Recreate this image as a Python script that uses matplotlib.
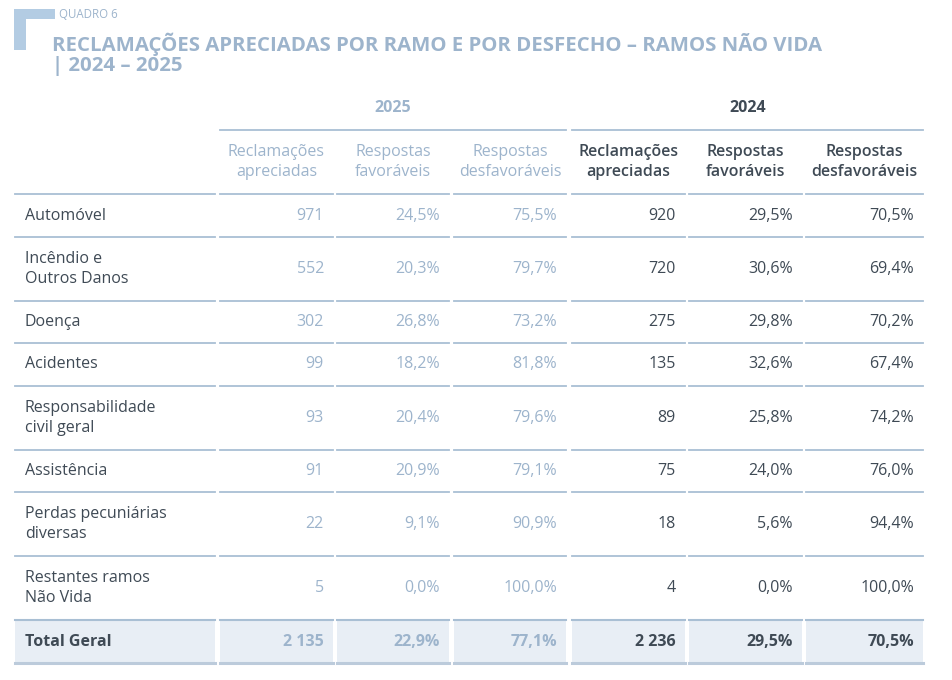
import matplotlib.pyplot as plt
from matplotlib.patches import Rectangle
from matplotlib.lines import Line2D

plt.rcParams['font.family'] = ['Open Sans', 'DejaVu Sans']

quadro = "QUADRO 6"
title_lines = ["RECLAMAÇÕES APRECIADAS POR RAMO E POR DESFECHO – RAMOS NÃO VIDA",
               "| 2024 – 2025"]
years = ["2025", "2024"]
col_headers = ["Reclamações\napreciadas", "Respostas\nfavoráveis", "Respostas\ndesfavoráveis"]
ramos = ["Automóvel", "Incêndio e\nOutros Danos", "Doença", "Acidentes",
         "Responsabilidade\ncivil geral", "Assistência", "Perdas pecuniárias\ndiversas",
         "Restantes ramos\nNão Vida"]
rec_2025 = ["971", "552", "302", "99", "93", "91", "22", "5"]
fav_2025 = ["24,5%", "20,3%", "26,8%", "18,2%", "20,4%", "20,9%", "9,1%", "0,0%"]
desf_2025 = ["75,5%", "79,7%", "73,2%", "81,8%", "79,6%", "79,1%", "90,9%", "100,0%"]
rec_2024 = ["920", "720", "275", "135", "89", "75", "18", "4"]
fav_2024 = ["29,5%", "30,6%", "29,8%", "32,6%", "25,8%", "24,0%", "5,6%", "0,0%"]
desf_2024 = ["70,5%", "69,4%", "70,2%", "67,4%", "74,2%", "76,0%", "94,4%", "100,0%"]
total_label = "Total Geral"
total_vals = ["2 135", "22,9%", "77,1%", "2 236", "29,5%", "70,5%"]

W, H = 953, 680
fig = plt.figure(figsize=(W / 100, H / 100), dpi=100)
fig.patch.set_facecolor('white')

def fx(x):
    return x / W

def fy(y):
    return 1 - y / H

light = '#9db4cc'
dark = '#3f4a55'
line_c = '#a9bfd4'
accent = '#b3cce3'
total_bg = '#e8eef5'
fs = 11.5

def hline(x0, x1, y, lw=1.3, c=line_c):
    fig.add_artist(Line2D([fx(x0), fx(x1)], [fy(y), fy(y)], color=c, lw=lw,
                          transform=fig.transFigure))

# corner accent
fig.add_artist(Rectangle((fx(14), fy(50)), fx(12), 41 / H, color=accent,
                         transform=fig.transFigure, lw=0))
fig.add_artist(Rectangle((fx(14), fy(19)), fx(41), 10 / H, color=accent,
                         transform=fig.transFigure, lw=0))

fig.text(fx(59), fy(15), quadro, fontsize=8.3, color=light, va='center', ha='left')
fig.text(fx(52), fy(44), title_lines[0], fontsize=14.7, fontweight='bold', color=light,
         va='center', ha='left')
fig.text(fx(52), fy(66), title_lines[1], fontsize=14.7, fontweight='bold', color=light,
         va='center', ha='left')

# column geometry
label_col = (15, 215)
cols = [(220, 333), (337, 449), (454, 566), (572, 685), (689, 802), (806, 923)]
col_colors = [light] * 3 + [dark] * 3

# year headers
fig.text(fx((220 + 566) / 2), fy(108), years[0], fontsize=fs, fontweight='bold',
         color=light, ha='center', va='center')
fig.text(fx((572 + 923) / 2), fy(108), years[1], fontsize=fs, fontweight='bold',
         color=dark, ha='center', va='center')
hline(220, 566, 130)
hline(572, 923, 130)

# column headers
for i, (x0, x1) in enumerate(cols):
    fig.text(fx((x0 + x1) / 2), fy(162), col_headers[i % 3], fontsize=fs,
             fontweight='semibold' if i >= 3 else 'normal', color=col_colors[i],
             ha='center', va='center', linespacing=1.35)

row_lines = [194, 237, 301, 343, 386, 450, 492, 556, 620]

def row_rule(y):
    hline(label_col[0], label_col[1], y)
    for x0, x1 in cols:
        hline(x0, x1, y)

for y in row_lines[:-1]:
    row_rule(y)

columns_data = [rec_2025, fav_2025, desf_2025, rec_2024, fav_2024, desf_2024]
for r, ramo in enumerate(ramos):
    yc = (row_lines[r] + row_lines[r + 1]) / 2
    fig.text(fx(25), fy(yc), ramo, fontsize=fs, color=dark, ha='left', va='center',
             linespacing=1.35)
    for c, (x0, x1) in enumerate(cols):
        fig.text(fx(x1 - 9), fy(yc), columns_data[c][r], fontsize=fs,
                 color=col_colors[c], ha='right', va='center')

# total row
ty0, ty1 = 620, 663
for x0, x1 in [label_col] + cols:
    fig.add_artist(Rectangle((fx(x0), fy(ty1)), fx(x1) - fx(x0), (ty1 - ty0) / H,
                             color=total_bg, lw=0, transform=fig.transFigure))
    hline(x0, x1, ty0, lw=1.5)
    hline(x0, x1, ty1, lw=2.2, c='#bccbdb')
tyc = (ty0 + ty1) / 2
fig.text(fx(25), fy(tyc), total_label, fontsize=fs, fontweight='bold', color=dark,
         ha='left', va='center')
for c, (x0, x1) in enumerate(cols):
    fig.text(fx(x1 - 9), fy(tyc), total_vals[c], fontsize=fs, fontweight='bold',
             color=col_colors[c], ha='right', va='center')

fig.savefig('out.png', dpi=100, facecolor='white')
